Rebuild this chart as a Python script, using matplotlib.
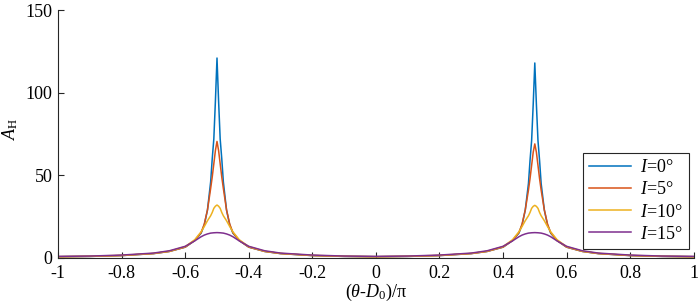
import numpy as np
import matplotlib
matplotlib.use('Agg')
import matplotlib.pyplot as plt

plt.rcParams['font.family'] = ['Liberation Serif', 'DejaVu Serif']
plt.rcParams['mathtext.fontset'] = 'custom'
plt.rcParams['mathtext.rm'] = 'Liberation Serif'
plt.rcParams['mathtext.it'] = 'Liberation Serif:italic'
plt.rcParams['font.size'] = 13

x = [-1, -0.9, -0.8, -0.7, -0.65, -0.6, -0.57, -0.55, -0.54, -0.53, -0.52, -0.515, -0.51, -0.505,
     -0.5, -0.495, -0.49, -0.485, -0.48, -0.47, -0.46, -0.45, -0.43, -0.4, -0.35, -0.3, -0.2, -0.1,
     0, 0.1, 0.2, 0.3, 0.35, 0.4, 0.43, 0.45, 0.46, 0.47, 0.48, 0.485, 0.49, 0.495,
     0.5, 0.505, 0.51, 0.515, 0.52, 0.53, 0.54, 0.55, 0.57, 0.6, 0.65, 0.7, 0.8, 0.9, 1]

a_i0 = [0.7, 0.9, 1.4, 2.6, 3.9, 6.5, 10.5, 15, 20, 29, 46, 60, 72, 95,
        121, 95, 72, 60, 46, 29, 20, 15, 10.5, 6.5, 3.9, 2.6, 1.4, 0.9,
        0.7, 0.9, 1.4, 2.6, 3.9, 6.5, 10.5, 15, 20, 29, 45, 59, 71, 93,
        118, 93, 71, 59, 45, 29, 20, 15, 10.5, 6.5, 3.9, 2.6, 1.4, 0.9, 0.7]
a_i5 = [0.7, 0.9, 1.4, 2.6, 3.9, 6.5, 10.5, 15.3, 20.5, 29, 42, 49, 57, 65,
        70.5, 65, 57, 49, 42, 29, 20.5, 15.3, 10.5, 6.5, 3.9, 2.6, 1.4, 0.9,
        0.7, 0.9, 1.4, 2.6, 3.9, 6.5, 10.5, 15.3, 20.5, 29, 41, 48, 56, 64,
        69, 64, 56, 48, 41, 29, 20.5, 15.3, 10.5, 6.5, 3.9, 2.6, 1.4, 0.9, 0.7]
a_i10 = [0.7, 1.0, 1.5, 2.7, 4.0, 6.8, 11, 15.8, 19, 22.5, 25.5, 27.5, 30, 31.3,
         32, 31.3, 30, 27.5, 25.5, 22.5, 19, 15.8, 11, 6.8, 4.0, 2.7, 1.5, 1.0,
         0.7, 1.0, 1.5, 2.7, 4.0, 6.8, 11, 15.8, 19, 22.5, 25.5, 27.5, 30, 31.2,
         31.8, 31.2, 30, 27.5, 25.5, 22.5, 19, 15.8, 11, 6.8, 4.0, 2.7, 1.5, 1.0, 0.7]
a_i15 = [0.9, 1.1, 1.7, 2.9, 4.3, 7.0, 10.3, 12.8, 13.8, 14.5, 15.0, 15.1, 15.2, 15.25,
         15.3, 15.25, 15.2, 15.1, 15.0, 14.5, 13.8, 12.8, 10.3, 7.0, 4.3, 2.9, 1.7, 1.1,
         0.9, 1.1, 1.7, 2.9, 4.3, 7.0, 10.3, 12.8, 13.8, 14.5, 15.0, 15.1, 15.2, 15.25,
         15.3, 15.25, 15.2, 15.1, 15.0, 14.5, 13.8, 12.8, 10.3, 7.0, 4.3, 2.9, 1.7, 1.1, 0.9]

labels = ['$I$=0°', '$I$=5°', '$I$=10°', '$I$=15°']
colors = ['#0072BD', '#D95319', '#EDB120', '#7E2F8E']

xticks = [-1, -0.8, -0.6, -0.4, -0.2, 0, 0.2, 0.4, 0.6, 0.8, 1]
xtick_labels = ['-1', '-0.8', '-0.6', '-0.4', '-0.2', '0', '0.2', '0.4', '0.6', '0.8', '1']
yticks = [0, 50, 100, 150]

fig = plt.figure(figsize=(7, 3.07), dpi=100)
ax = fig.add_axes([0.083, 0.16, 0.908, 0.807])

for y, lab, c in zip([a_i0, a_i5, a_i10, a_i15], labels, colors):
    ax.plot(x, y, color=c, lw=1.1, label=lab)

ax.set_xlim(-1, 1)
ax.set_ylim(0, 150)
ax.set_xticks(xticks)
ax.set_xticklabels(xtick_labels)
ax.set_yticks(yticks)
ax.tick_params(direction='in', length=4, width=0.8, colors='#262626', labelcolor='black')
ax.tick_params(axis='y', pad=4)
ax.tick_params(axis='x', pad=5)
for s in ['top', 'right']:
    ax.spines[s].set_visible(False)
for s in ['left', 'bottom']:
    ax.spines[s].set_color('#262626')
    ax.spines[s].set_linewidth(0.8)

ax.set_xlabel(r'($\theta$-$D_0$)/π', labelpad=0)
ax.set_ylabel(r'$A_{\mathrm{H}}$')
ax.yaxis.set_label_coords(-0.06, 0.52)

leg = ax.legend(loc='upper right', bbox_to_anchor=(0.992, 0.423), borderaxespad=0,
                fancybox=False, framealpha=1, edgecolor='#262626', handlelength=2.3,
                borderpad=0.35, labelspacing=0.28, handletextpad=0.5, fontsize=13)
leg.get_frame().set_linewidth(0.8)

fig.savefig('out.png', dpi=100)
